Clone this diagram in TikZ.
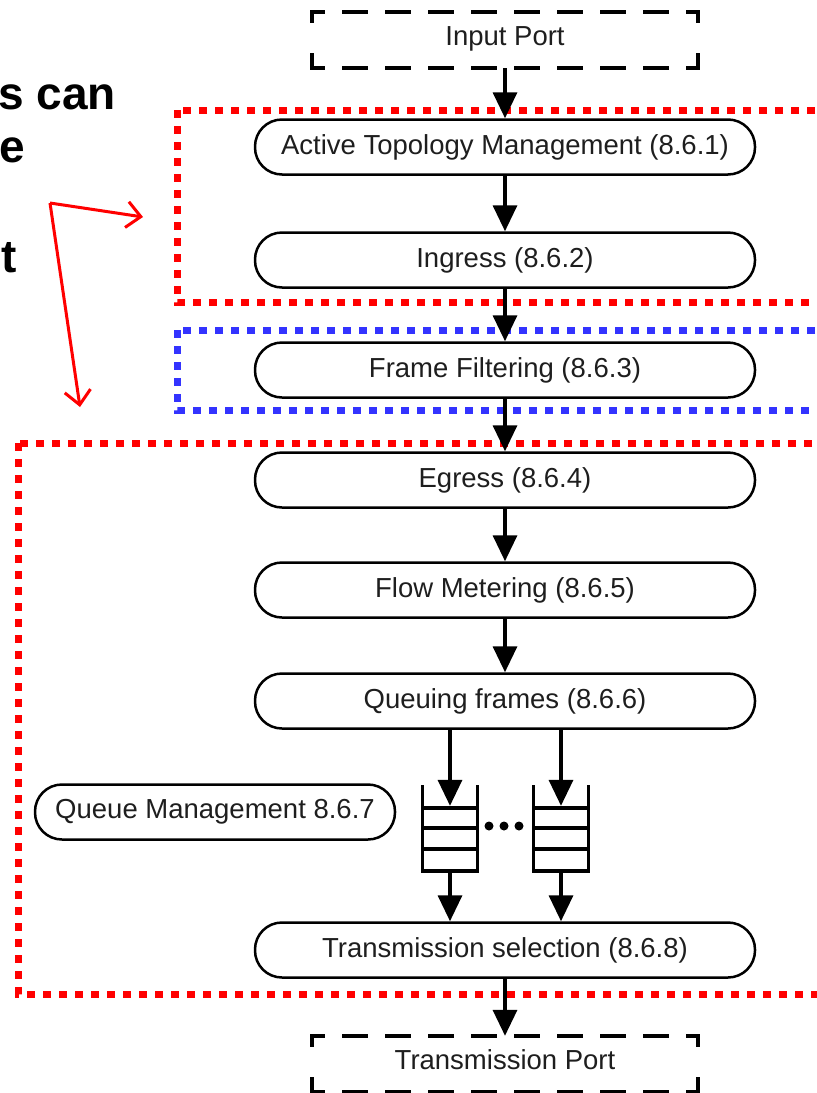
\documentclass[tikz,border=0pt]{standalone}
\usepackage{fontspec}
\setmainfont{Liberation Sans}
\usetikzlibrary{arrows.meta}
\definecolor{zonered}{RGB}{255,0,0}
\definecolor{zoneblue}{RGB}{51,51,255}
\definecolor{inktext}{RGB}{30,30,30}
\begin{document}
\begin{tikzpicture}[x=1pt,y=-1pt,
  proc/.style={draw, fill=white, line width=2.5pt, rounded corners=27pt,
    minimum width=500pt, minimum height=55pt, inner sep=0pt,
    text=inktext, font=\fontsize{27.5}{31}\selectfont},
  portbox/.style={minimum width=386pt, minimum height=56pt, inner sep=0pt,
    text height=20pt, text depth=10pt,
    text=inktext, font=\fontsize{27.5}{31}\selectfont},
  portside/.style={line width=4pt, line cap=rect, dash pattern=on 22pt off 21pt, dash phase=11pt},
  portend/.style={line width=4pt, line cap=rect, dash pattern=on 9pt off 34pt},
  flow/.style={-{Triangle[width=24pt,length=26pt]}, line width=3.5pt},
  qline/.style={line width=3.5pt},
  zone/.style={line width=7pt, dash pattern=on 8pt off 8pt},
  pointer/.style={zonered, line width=3pt, -{Straight Barb[length=14pt,width=26pt]}},
  big/.style={font=\fontsize{46}{50}\selectfont\bfseries, inner sep=0pt}]
\clip (0,0) rectangle (817,1093);
\fill[white] (0,0) rectangle (817,1093);

% dotted grouping zones (open to the right)
\draw[zone, zonered]  (177,110) rectangle (840,302);
\draw[zone, zoneblue] (177,330) rectangle (840,410);
\draw[zone, zonered]  (18,443)  rectangle (840,994);

% left-hand caption fragments
\node[big, anchor=base east] (cap1) at (116,109) {s can};
\node[big, anchor=base east] (cap2) at (25,162) {e};
\node[big, anchor=base east] (cap3) at (17,272) {t};

% red pointers
\coordinate (src) at (50,203);
\coordinate (tipA) at (143,217);
\coordinate (tipB) at (80,407);
\draw[pointer] (src) -- (tipA);
\draw[pointer] (src) -- (tipB);

% ports
\node[portbox] (in) at (505,40) {Input Port};
\node[portbox] (out) at (505,1064) {Transmission Port};
\foreach \p in {in,out} {
  \draw[portside] (\p.north west) -- (\p.north east);
  \draw[portside] (\p.south west) -- (\p.south east);
  \draw[portend] (\p.north west) -- (\p.south west);
  \draw[portend] (\p.north east) -- (\p.south east);
}

% processing stages
\node[proc] (atm) at (505,147) {Active Topology Management (8.6.1)};
\node[proc] (ing) at (505,260) {Ingress (8.6.2)};
\node[proc] (ff)  at (505,370) {Frame Filtering (8.6.3)};
\node[proc] (eg)  at (505,480) {Egress (8.6.4)};
\node[proc] (fm)  at (505,590) {Flow Metering (8.6.5)};
\node[proc] (qf)  at (505,701) {Queuing frames (8.6.6)};
\node[proc] (ts)  at (505,950) {Transmission selection (8.6.8)};
\node[proc, minimum width=360pt] (qm) at (215,812) {Queue Management 8.6.7};

% queues
\foreach \cx/\nm in {450/q1, 561/q2} {
  \node[minimum width=55pt, minimum height=86pt, inner sep=0pt] (\nm) at (\cx,828) {};
  \draw[qline] (\cx-27.5,785) -- (\cx-27.5,871) -- (\cx+27.5,871) -- (\cx+27.5,785);
  \foreach \yy in {808,828,849}
    \draw[qline] (\cx-27.5,\yy) -- (\cx+27.5,\yy);
}
\fill (489,826) circle (4.5pt) (504,826) circle (4.5pt) (519,826) circle (4.5pt);

% flow arrows
\draw[flow] (in) -- (atm);
\draw[flow] (atm) -- (ing);
\draw[flow] (ing) -- (ff);
\draw[flow] (ff) -- (eg);
\draw[flow] (eg) -- (fm);
\draw[flow] (fm) -- (qf);
\foreach \nm in {q1,q2} {
  \draw[flow] (qf.south -| \nm.north) -- ([yshift=-21pt]\nm.north);
  \draw[flow] (\nm.south) -- (\nm.south |- ts.north);
}
\draw[flow] (ts) -- (out);
\end{tikzpicture}
\end{document}
